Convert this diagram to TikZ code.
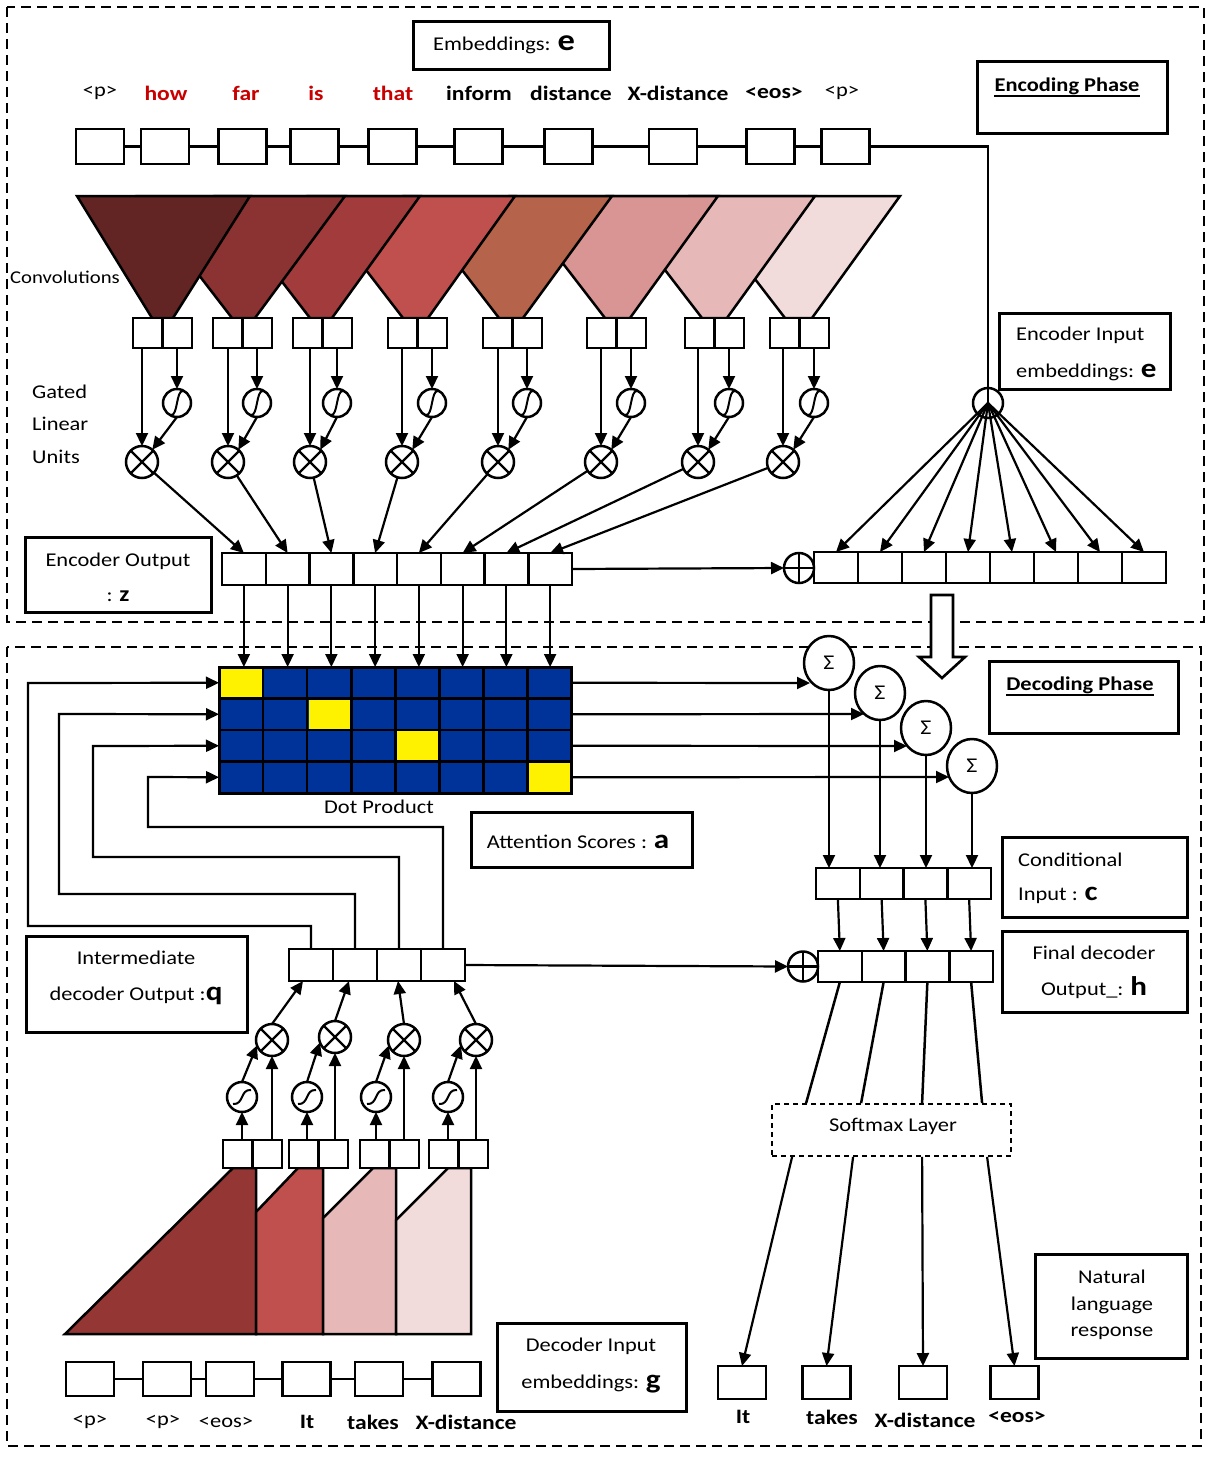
\documentclass[tikz,border=0pt]{standalone}
\usepackage{fontspec}
\setmainfont{Carlito}[FakeStretch=1.15]
\usetikzlibrary{arrows.meta,calc,shapes.geometric}
\definecolor{mblue}{RGB}{0,51,153}
\definecolor{tokred}{RGB}{200,0,0}
\definecolor{ea}{HTML}{632523}
\definecolor{eb}{HTML}{8B3232}
\definecolor{ec}{HTML}{A23B3B}
\definecolor{ed}{HTML}{C0504D}
\definecolor{ee}{HTML}{B5634A}
\definecolor{ef}{HTML}{D99594}
\definecolor{eg}{HTML}{E6B9B8}
\definecolor{eh}{HTML}{F2DCDB}
\definecolor{da}{HTML}{943634}
\tikzset{
  ln/.style={line width=2.5pt},
  arr/.style={line width=2.2pt,-{Triangle[length=13pt,width=12pt]}},
  sq/.style={draw,line width=2.8pt,fill=white,inner sep=0pt,outer sep=0pt},
  cell/.style={draw,line width=2.5pt,fill=white,inner sep=0pt,outer sep=0pt},
  lbox/.style={draw,line width=3pt,inner sep=0pt,outer sep=0pt},
  phasebox/.style={line width=2.6pt,dash pattern=on 10pt off 6pt},
  circ/.style={draw,circle,line width=2.5pt,fill=white,inner sep=0pt,outer sep=0pt},
  sig/.style={draw,ellipse,line width=2.5pt,fill=white,inner sep=0pt,outer sep=0pt,minimum width=50pt,minimum height=54pt,font=\fontsize{21}{24}\selectfont},
  txt/.style={inner sep=0pt,font=\fontsize{19.5}{23}\selectfont},
  tok/.style={inner sep=0pt,font=\fontsize{20.5}{24}\selectfont\bfseries},
  tokn/.style={inner sep=0pt,font=\fontsize{19.5}{23}\selectfont},
}
\newcommand{\bigb}[1]{{\fontsize{27}{27}\selectfont\bfseries #1}}
\begin{document}
\begin{tikzpicture}[x=1pt,y=-1pt]
\useasboundingbox[fill=white] (0,0) rectangle (1219,1465);
% phase frames
\draw[phasebox] (7,7) rectangle (1204,622);
\draw[phasebox] (7,647) rectangle (1201,1446);

% ================= ENCODER =================
\node[lbox,minimum width=196pt,minimum height=48pt] (embbox) at (511,45) {};
\node[txt,anchor=base] (embtxt) at (504,50) {Embeddings: {\fontsize{30}{30}\selectfont\bfseries e}};
\node[lbox,minimum width=190pt,minimum height=72pt] (encbox) at (1072,97) {};
\node[txt,font=\fontsize{19.5}{23}\selectfont\bfseries,anchor=base] (enctxt) at (1067,91) {Encoding Phase};
\draw[line width=2.8pt] ($(enctxt.base west)+(0,5)$) -- ($(enctxt.base east)+(0,5)$);

% token boxes
\foreach \n/\x in {1/100, 2/165, 3/242.5, 4/314.5, 5/392.5, 6/478.5, 7/568.5, 8/673, 9/770.5, 10/845.5}
  \node[sq,minimum width=48pt,minimum height=35pt] (t\n) at (\x,146.5) {};
\draw[ln] (t1) -- (t2) -- (t3) -- (t4) -- (t5) -- (t6) -- (t7) -- (t8) -- (t9) -- (t10);
\node[tokn] (w1) at (100,93) {<p>};
\node[tok,text=tokred] (w2) at (166,93) {how};
\node[tok,text=tokred] (w3) at (246,93) {far};
\node[tok,text=tokred] (w4) at (316,93) {is};
\node[tok,text=tokred] (w5) at (393,93) {that};
\node[tok] (w6) at (479,93) {inform};
\node[tok] (w7) at (571,93) {distance};
\node[tok] (w8) at (678,93) {X-distance};
\node[tok] (w9) at (774,93) {<eos>};
\node[tokn] (w10) at (842,93) {<p>};

% convolution triangles
\foreach \tl/\tr/\al/\ar/\col in {691/900/785/812/eh, 608/815/702/727/eg, 511/718/605/630/ef, 405/612/499/523/ee, 309/515/403/428/ed, 216/420/310/332/ec, 138/345/232/255/eb, 77/250/152/173/ea}
  \draw[line width=2.5pt,fill=\col] (\tl,196) -- (\tr,196) -- (\ar,318) -- (\al,318) -- cycle;
\node[inner sep=0pt,font=\fontsize{18}{20}\selectfont,anchor=west] (convl) at (10,277) {Convolutions};
\node[txt,anchor=west] (gl1) at (32,392) {Gated};
\node[txt,anchor=west] (gl2) at (32,424) {Linear};
\node[txt,anchor=west] (gl3) at (32,457) {Units};

% encoder output row
\foreach \i in {1,...,8}
  \node[cell,minimum width=43.75pt,minimum height=32pt] (eo\i) at ({222+43.75*(\i-0.5)},569) {};

% GLU units
\foreach \i/\L/\cx in {1/133/142, 2/213/228, 3/293/310, 4/388/402, 5/483/498, 6/587/601, 7/685/698, 8/770/783}{
  \node[sq,minimum width=29.5pt,minimum height=30pt,anchor=north west] (pa\i) at (\L,318) {};
  \node[sq,minimum width=29.5pt,minimum height=30pt,anchor=north west] (pb\i) at (\L+29.5,318) {};
  \node[circ,minimum size=28pt] (sg\i) at (\L+44,403) {};
  \node[circ,minimum size=32pt] (cr\i) at (\cx,462) {};
  \draw[line width=2.2pt] (cr\i.45) -- (cr\i.225) (cr\i.135) -- (cr\i.315);
  \draw[line width=2pt] ($(sg\i)+(-6,12)$) .. controls ($(sg\i)+(1,13)$) and ($(sg\i)+(-1,-13)$) .. ($(sg\i)+(6,-12)$);
  \draw[arr] (\cx,348) -- (cr\i.north);
  \draw[arr] (\L+44,348) -- (sg\i.north);
  \draw[arr] (sg\i.south) -- (cr\i.50);
  \draw[arr] (cr\i) -- (eo\i.north);
}

\node[lbox,minimum width=186pt,minimum height=75pt] (eobox) at (118,574.5) {};
\node[txt] (eot1) at (118,561) {Encoder Output};
\node[txt,anchor=base] (eot2) at (118,601) {: {\fontsize{22}{22}\selectfont\bfseries z}};

% right row and hub
\foreach \i in {1,...,8}
  \node[cell,minimum width=44pt,minimum height=31pt] (rr\i) at ({814+44*(\i-0.5)},567.5) {};
\node[circ,minimum size=30pt] (op1) at (799,568) {};
\draw[line width=2.2pt] (op1.north) -- (op1.south) (op1.west) -- (op1.east);
\draw[arr] (eo8.east) -- (op1.west);
\node[circ,minimum size=30pt] (hub) at (988,403) {};
\draw[ln] (t10.east) -- (t10.east -| hub.center) -- (hub.center);
\foreach \i in {1,...,8}
  \draw[arr] (hub.center) -- (rr\i.north);
\node[lbox,minimum width=171pt,minimum height=76pt] (eibox) at (1084.5,351) {};
\node[txt,anchor=west] (eit1) at (1016,335) {Encoder Input};
\node[txt,anchor=base west] (eit2) at (1016,377) {embeddings: \bigb{e}};

% ================= ATTENTION =================
\foreach \r in {0,...,3}
  \foreach \c in {0,...,7}
    \node[cell,fill=mblue,minimum width=44.1pt,minimum height=31.5pt] (m\r\c) at ({219+44.1*(\c+0.5)},{667+31.5*(\r+0.5)}) {};
\foreach \r/\c in {0/0,1/2,2/4,3/7}
  \fill[yellow] ($(m\r\c.south west)+(1.4,-1.4)$) rectangle ($(m\r\c.north east)+(-1.4,1.4)$);
\draw[line width=3pt] (m00.north west) rectangle (m37.south east);
\foreach \i/\c in {1/0,2/1,3/2,4/3,5/4,6/5,7/6,8/7}
  \draw[arr] (eo\i.south) -- (eo\i.south |- m0\c.north);
\node[txt] (dotp) at (379,807) {Dot Product};
\node[lbox,minimum width=221pt,minimum height=55pt] (attbox) at (581.5,839.5) {};
\node[txt,anchor=base] (atttxt) at (578,848) {Attention Scores : \bigb{a}};

% sigma nodes
\node[sig] (s1) at (829,663) {Σ};
\node[sig] (s2) at (880,693) {Σ};
\node[sig] (s3) at (926,728) {Σ};
\node[sig] (s4) at (972,766) {Σ};
\coordinate (sin0) at (810,683);
\coordinate (sin1) at (864,714);
\coordinate (sin2) at (907,746);
\coordinate (sin3) at (949,777);
\foreach \r in {0,...,3}
  \draw[arr] (m\r7.east) -- (sin\r);

% conditional and final rows
\foreach \i in {1,...,4}{
  \node[cell,minimum width=43.75pt,minimum height=31pt] (c\i) at ({816+43.75*(\i-0.5)},883.5) {};
  \node[cell,minimum width=43.75pt,minimum height=31pt] (f\i) at ({818+43.75*(\i-0.5)},966.5) {};
  \draw[arr] (c\i.south) -- (f\i.north);
  \draw[arr] (s\i.south) -- (s\i.south |- c\i.north);
}
\node[circ,minimum size=30pt] (op2) at (803,966.5) {};
\draw[line width=2.2pt] (op2.north) -- (op2.south) (op2.west) -- (op2.east);

\node[lbox,minimum width=185pt,minimum height=80pt] (cbox) at (1094.5,877) {};
\node[txt,anchor=west] (ct1) at (1018,860) {Conditional};
\node[txt,anchor=base west] (ct2) at (1018,900) {Input : \bigb{c}};
\node[lbox,minimum width=185pt,minimum height=81pt] (fbox) at (1094.5,971.5) {};
\node[txt] (ft1) at (1094,953) {Final decoder};
\node[txt,anchor=base] (ft2) at (1094,995) {Output\_: \bigb{h}};
\node[lbox,minimum width=189pt,minimum height=72pt] (dbox) at (1083.5,697) {};
\node[txt,font=\fontsize{19.5}{23}\selectfont\bfseries,anchor=base] (dectxt) at (1080,690) {Decoding Phase};
\draw[line width=2.8pt] ($(dectxt.base west)+(0,5)$) -- ($(dectxt.base east)+(0,5)$);

% block arrow
\draw[line width=2.6pt,fill=white,line join=miter] (931,595) -- (953,595) -- (953,657) -- (965,657) -- (942,678) -- (919,657) -- (931,657) -- cycle;

% ================= DECODER =================
\foreach \i in {1,...,4}
  \node[cell,minimum width=44pt,minimum height=32pt] (io\i) at ({289+44*(\i-0.5)},965) {};
\draw[arr] (io4.east) -- (op2.west);
\draw[arr] (io1.north) -- ++(0,-23) -| (28,683) -- (m00.west);
\draw[arr] (io2.north) -- ++(0,-55) -| (59,714) -- (m10.west);
\draw[arr] (io3.north) -- ++(0,-92) -| (93,746) -- (m20.west);
\draw[arr] (io4.north) -- ++(0,-122) -| (148,777) -- (m30.west);
\node[lbox,minimum width=221pt,minimum height=96pt] (ibox) at (136.5,984) {};
\node[txt] (it1) at (136,958) {Intermediate};
\node[txt,anchor=base] (it2) at (136,1000) {decoder Output :\bigb{q}};

% decoder triangles
\draw[line width=2.5pt,fill=da] (65,1334) -- (233,1168) -- (256,1168) -- (256,1334) -- cycle;
\draw[line width=2.5pt,fill=ed] (256,1212) -- (298,1168) -- (323,1168) -- (323,1334) -- (256,1334) -- cycle;
\draw[line width=2.5pt,fill=eg] (323,1218) -- (373,1168) -- (396,1168) -- (396,1334) -- (323,1334) -- cycle;
\draw[line width=2.5pt,fill=eh] (396,1220) -- (448,1168) -- (471,1168) -- (471,1334) -- (396,1334) -- cycle;

% decoder GLU
\foreach \i/\L/\sx/\cx/\cy/\off in {1/223/242/272/1040/-8, 2/289/307/335/1037/-6, 3/360/376/404/1040/-1, 4/429/448/476/1040/11}{
  \node[sq,minimum width=29.5pt,minimum height=28pt,anchor=north west] (da\i) at (\L,1140) {};
  \node[sq,minimum width=29.5pt,minimum height=28pt,anchor=north west] (db\i) at (\L+29.5,1140) {};
  \node[circ,minimum size=30pt] (dsg\i) at (\sx,1097) {};
  \node[circ,minimum size=32pt] (dcr\i) at (\cx,\cy) {};
  \draw[line width=2.2pt] (dcr\i.45) -- (dcr\i.225) (dcr\i.135) -- (dcr\i.315);
  \draw[line width=2pt] ($(dsg\i)+(-9,7)$) .. controls ($(dsg\i)+(2,8)$) and ($(dsg\i)+(-2,-8)$) .. ($(dsg\i)+(9,-7)$);
  \draw[arr] (\sx,1140) -- (dsg\i.south);
  \draw[arr] (\cx,1140) -- (dcr\i.south);
  \draw[arr] (dsg\i.north) -- (dcr\i.200);
  \draw[arr] (dcr\i.north) -- ($(io\i.south)+(\off,0)$);
}

% decoder input tokens
\foreach \n/\x in {1/90, 2/167, 3/230, 4/306.5, 5/379, 6/456.5}
  \node[sq,minimum width=48pt,minimum height=34pt] (g\n) at (\x,1379) {};
\draw[ln] (g1) -- (g2) -- (g3) -- (g4) -- (g5) -- (g6);
\node[tokn] (gw1) at (90,1422) {<p>};
\node[tokn] (gw2) at (163,1422) {<p>};
\node[tokn] (gw3) at (226,1422) {<eos>};
\node[tok] (gw4) at (307,1422) {It};
\node[tok] (gw5) at (373,1422) {takes};
\node[tok] (gw6) at (466,1422) {X-distance};
\node[lbox,minimum width=189pt,minimum height=88pt] (gbox) at (591.5,1367) {};
\node[txt] (gt1) at (591,1346) {Decoder Input};
\node[txt,anchor=base] (gt2) at (591,1388) {embeddings: \bigb{g}};

% softmax and outputs
\node[draw,line width=1.8pt,dash pattern=on 5pt off 4pt,minimum width=239pt,minimum height=52pt,inner sep=0pt] (smx) at (891.5,1130) {};
\node[txt] (smt) at (893,1126) {Softmax Layer};
\foreach \i/\o in {1/35,2/90,3/151,4/211}
  \draw[ln] (f\i.south) -- ($(smx.north west)+(\o,0)$);
\foreach \n/\x in {1/742,2/826.5,3/923,4/1014.5}
  \node[sq,minimum width=48pt,minimum height=33pt] (o\n) at (\x,1382.5) {};
\foreach \i/\o in {1/21,2/82,3/151,4/216}
  \draw[arr] ($(smx.south west)+(\o,0)$) -- (o\i.north);
\node[tok] (ow1) at (743,1417) {It};
\node[tok] (ow2) at (832,1417) {takes};
\node[tok] (ow3) at (925,1420) {X-distance};
\node[tok] (ow4) at (1017,1417) {<eos>};
\node[lbox,minimum width=152pt,minimum height=104pt] (nbox) at (1111,1306) {};
\node[txt] (nt1) at (1112,1277) {Natural};
\node[txt] (nt2) at (1112,1305) {language};
\node[txt] (nt3) at (1112,1333) {response};
\end{tikzpicture}
\end{document}
